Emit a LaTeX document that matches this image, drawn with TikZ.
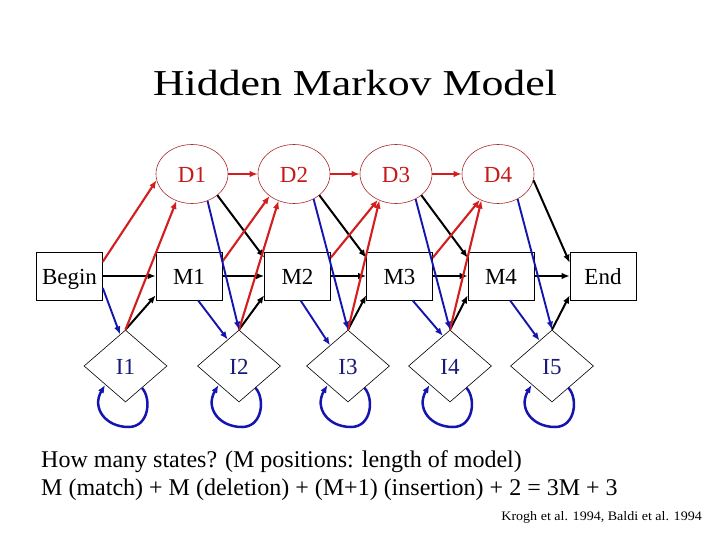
\documentclass[tikz,border=0pt]{standalone}
\usepackage{fontspec}
\setmainfont{Liberation Serif}
\usetikzlibrary{shapes.geometric,arrows.meta,calc}
\definecolor{redarr}{RGB}{210,30,30}
\definecolor{bluearr}{RGB}{20,20,175}
\definecolor{dlabel}{RGB}{200,25,25}
\definecolor{dborder}{RGB}{170,40,40}
\definecolor{ilabel}{RGB}{25,25,120}
\begin{document}
\begin{tikzpicture}[x=1pt,y=-1pt,
  lbl/.style={font=\fontsize{23}{27}\selectfont,text height=17pt,text depth=0pt},
  mbox/.style={lbl,draw,line width=0.6pt,rectangle,minimum width=66pt,minimum height=48pt,inner sep=0pt},
  dnode/.style={lbl,draw=dborder,line width=0.6pt,ellipse,minimum width=72pt,minimum height=59pt,inner sep=0pt,text=dlabel},
  inode/.style={lbl,draw,line width=0.6pt,diamond,minimum width=83pt,minimum height=72pt,inner sep=0pt,text=ilabel},
  tipped/.style={-{Latex[length=8pt,width=6.5pt]}},
  blackarrow/.style={tipped,line width=2pt,draw=black},
  redarrow/.style={tipped,line width=2.1pt,draw=redarr,fill=redarr},
  bluearrow/.style={tipped,line width=1.9pt,draw=bluearr,fill=bluearr},
  loopline/.style={tipped,line width=2.5pt,draw=bluearr,fill=none},
  bodytext/.style={font=\fontsize{24}{28}\selectfont,inner sep=0pt}]
\useasboundingbox (0,0) rectangle (720,540);
\fill[white] (0,0) rectangle (720,540);

% title
\node[anchor=base,inner sep=0pt,font=\fontsize{36.5}{40}\selectfont] (title) at (355,96) {\scalebox{1.2}[1]{Hidden Markov Model}};

% match row
\node[mbox] (Begin) at (69.5,276) {Begin};
\node[mbox] (M1) at (189,276) {M1};
\node[mbox] (M2) at (297.5,276) {M2};
\node[mbox] (M3) at (399.5,276) {M3};
\node[mbox] (M4) at (501,276) {M4};
\node[mbox] (End) at (603,276) {End};

% deletion row
\node[dnode] (D1) at (192,174) {D1};
\node[dnode] (D2) at (294,174) {D2};
\node[dnode] (D3) at (396,174) {D3};
\node[dnode] (D4) at (498,174) {D4};

% insertion row
\node[inode] (I1) at (125.5,366) {I1};
\node[inode] (I2) at (239,366) {I2};
\node[inode] (I3) at (348,366) {I3};
\node[inode] (I4) at (450,366) {I4};
\node[inode] (I5) at (552,366) {I5};

% black: to match / end states
\draw[blackarrow] (Begin) -- (M1);
\draw[blackarrow] (M1) -- (M2);
\draw[blackarrow] (M2) -- (M3);
\draw[blackarrow] (M3) -- (M4);
\draw[blackarrow] (M4) -- (End);
\draw[blackarrow] (I1.north) -- ([yshift=5pt]M1.south west);
\draw[blackarrow] (I2.north) -- ([yshift=5pt]M2.south west);
\draw[blackarrow] (I3.north) -- ([yshift=5pt]M3.south west);
\draw[blackarrow] (I4.north) -- ([yshift=5pt]M4.south west);
\draw[blackarrow] (I5.north) -- ([yshift=5pt]End.south west);
\draw[blackarrow] (D1.-40) -- ([yshift=-6pt]M2.north west);
\draw[blackarrow] (D2.-40) -- ([yshift=-6pt]M3.north west);
\draw[blackarrow] (D3.-40) -- ([yshift=-6pt]M4.north west);
\draw[blackarrow] (D4.-10) -- ([yshift=-11pt]End.north west);

% red: to deletion states
\draw[redarrow] (D1) -- (D2);
\draw[redarrow] (D2) -- (D3);
\draw[redarrow] (D3) -- (D4);
\draw[redarrow] ([yshift=-10pt]Begin.north east) -- (D1.190);
\draw[redarrow] ([yshift=-10pt]M1.north east) -- (D2.222);
\draw[redarrow] ([yshift=-6pt]M2.north east) -- (D3.235);
\draw[redarrow] ([yshift=-6pt]M3.north east) -- (D4.235);
\draw[redarrow] (I1.north) -- (D1.240);
\draw[redarrow] (I2.north) -- (D2.240);
\draw[redarrow] (I3.north) -- (D3.238);
\draw[redarrow] (I4.north) -- (D4.238);

% blue: to insertion states
\draw[bluearrow] ([yshift=-12pt]Begin.east) -- ($(I1.north)!0.13!(I1.west)$);
\draw[bluearrow] ([xshift=9pt]M1.south) -- ($(I2.north)!0.27!(I2.west)$);
\draw[bluearrow] ([xshift=3pt]M2.south) -- ($(I3.north)!0.43!(I3.west)$);
\draw[bluearrow] ([xshift=13pt]M3.south) -- ($(I4.north)!0.17!(I4.west)$);
\draw[bluearrow] ([xshift=9pt]M4.south) -- ($(I5.north)!0.3!(I5.west)$);
\draw[bluearrow] (D1.-60) -- (I2.north);
\draw[bluearrow] (D2.-52) -- (I3.north);
\draw[bluearrow] (D3.-52) -- (I4.north);
\draw[bluearrow] (D4.-52) -- (I5.north);

% self loops
\foreach \n in {I1,I2,I3,I4,I5}{
  \draw[loopline] ($(\n)+(16.5,22)$) .. controls ($(\n)+(26,32)$) and ($(\n)+(24,61)$) .. ($(\n)+(3,61)$)
     .. controls ($(\n)+(-20,61)$) and ($(\n)+(-34,42)$) .. ($(\n)+(-20.5,19)$);
}

% text
\node[bodytext,anchor=base west] (line1) at (41,467) {How many states? (M positions: length of model)};
\node[bodytext,anchor=base west] (line2) at (41,495) {M (match) + M (deletion) + (M+1) (insertion) + 2 = 3M + 3};
\node[anchor=base east,inner sep=0pt,font=\fontsize{13}{15}\selectfont] (credit) at (702,520) {\scalebox{1.08}[1]{Krogh et al. 1994, Baldi et al. 1994}};
\end{tikzpicture}
\end{document}
